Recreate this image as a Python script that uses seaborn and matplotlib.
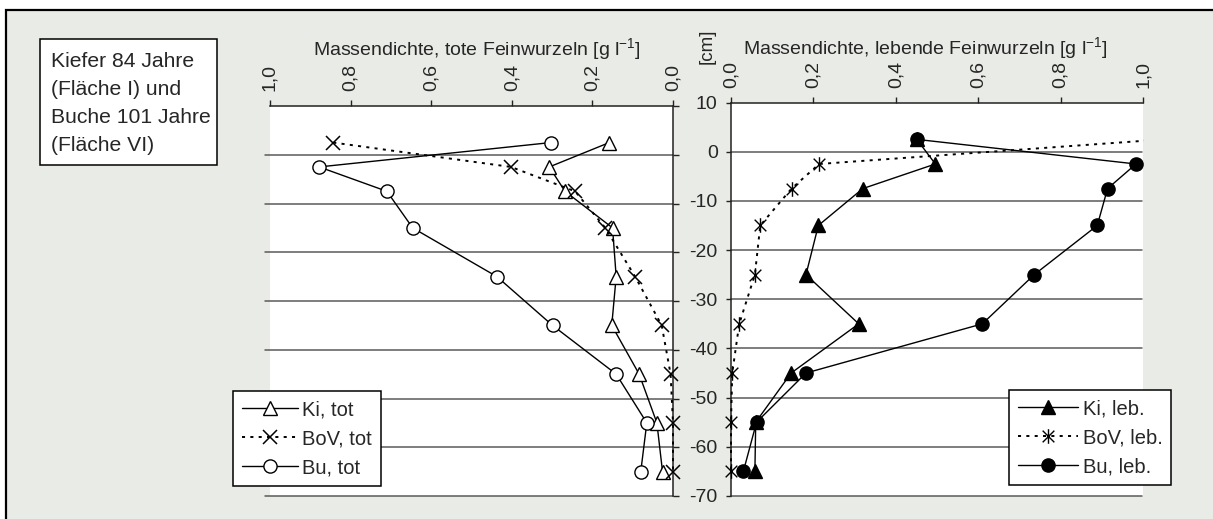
import numpy as np
import matplotlib
matplotlib.use("Agg")
import matplotlib.pyplot as plt
from matplotlib.patches import Rectangle
from matplotlib.path import Path
import seaborn as sns

# Depth of sampled layers [cm]; positive = organic layer above mineral soil
depth = [2.5, -2.5, -7.5, -15, -25, -35, -45, -55, -65]

# Dead fine roots [g/l]
ki_tot = [0.158, 0.307, 0.268, 0.150, 0.141, 0.152, 0.084, 0.040, 0.026]
bov_tot = [0.843, 0.402, 0.243, 0.168, 0.094, 0.028, 0.006, 0.0, 0.0]
bu_tot = [0.303, 0.878, 0.710, 0.646, 0.437, 0.299, 0.141, 0.065, 0.080]

# Living fine roots [g/l]
ki_leb = [0.451, 0.496, 0.320, 0.212, 0.182, 0.310, 0.146, 0.060, 0.058]
bov_leb = [1.05, 0.214, 0.147, 0.071, 0.058, 0.020, 0.003, 0.0, 0.0]
bu_leb = [0.451, 0.983, 0.914, 0.889, 0.736, 0.610, 0.182, 0.062, 0.030]

x_ticks = [0.0, 0.2, 0.4, 0.6, 0.8, 1.0]
x_ticklabels = ["0,0", "0,2", "0,4", "0,6", "0,8", "1,0"]
y_ticks = [-70, -60, -50, -40, -30, -20, -10, 0, 10]
y_ticklabels = ["-70", "-60", "-50", "-40", "-30", "-20", "-10", "0", "10"]

sns.set_theme(style="white")
plt.rcParams["font.family"] = ["Liberation Sans", "DejaVu Sans"]
plt.rcParams["mathtext.fontset"] = "custom"
plt.rcParams["mathtext.rm"] = "Liberation Sans"
plt.rcParams["mathtext.it"] = "Liberation Sans:italic"
plt.rcParams["lines.scale_dashes"] = False

W, H = 1213, 519
fig = plt.figure(figsize=(W / 100, H / 100), dpi=100)
fig.patch.set_facecolor("white")


def fx(px):
    return px / W


def fy(py):
    return 1 - py / H


# outer panel background
fig.add_artist(Rectangle((fx(6), -0.05), 1.1, fy(10) + 0.05, transform=fig.transFigure,
                         facecolor="#e9ebe6", edgecolor="black", lw=1.6, zorder=-5))

axL = fig.add_axes([fx(270), fy(496), fx(673) - fx(270), fy(106) - fy(496)])
axR = fig.add_axes([fx(731), fy(496), fx(1143) - fx(731), fy(102.5) - fy(496)])

asterisk = Path([(-1, -1), (1, 1), (-1, 1), (1, -1), (0, -1.25), (0, 1.25)],
                [Path.MOVETO, Path.LINETO, Path.MOVETO, Path.LINETO, Path.MOVETO, Path.LINETO])

TICK_FS = 14
GRID_C = "#5a5a5a"
DOT = (0, (2.2, 3.8))

for ax in (axL, axR):
    ax.set_facecolor("white")
    ax.set_ylim(-70, 10)
    for y in y_ticks[:-1]:
        if ax is axL:
            ax.axhline(y, xmin=-0.012, xmax=1.0, color=GRID_C, lw=1.1, zorder=0.5, clip_on=False)
        else:
            ax.axhline(y, xmin=0.0, xmax=0.997, color=GRID_C, lw=1.1, zorder=0.5, clip_on=False)
    ax.xaxis.set_ticks_position("top")
    ax.set_xticks(x_ticks)
    ax.set_xticklabels(x_ticklabels, rotation=90, fontsize=TICK_FS)
    ax.tick_params(axis="x", direction="out", length=4.3, width=1.0, color="#222222",
                   pad=6.5, top=True, bottom=False, labeltop=True, labelbottom=False)
    ax.set_xlabel("")
    ax.set_ylabel("")
    for s in ax.spines.values():
        s.set_visible(False)
    ax.spines["top"].set_visible(True)
    ax.spines["top"].set_color("#222222")
    ax.spines["top"].set_linewidth(1.1)

# left panel: dead roots, reversed x axis
axL.set_xlim(1.0, 0.0)
axL.spines["right"].set_visible(True)
axL.spines["right"].set_color("#222222")
axL.spines["right"].set_linewidth(1.1)
axL.yaxis.set_ticks_position("right")
axL.set_yticks(y_ticks)
axL.tick_params(axis="y", direction="out", length=4.3, width=1.0, color="#222222",
                right=True, left=False, labelright=False, labelleft=False)

# right panel: living roots
axR.set_xlim(0.0, 1.0)
axR.spines["left"].set_visible(True)
axR.spines["left"].set_color("#222222")
axR.spines["left"].set_linewidth(1.1)
axR.yaxis.set_ticks_position("left")
axR.set_yticks(y_ticks)
axR.set_yticklabels(y_ticklabels, fontsize=TICK_FS)
axR.tick_params(axis="y", direction="out", length=3.6, width=1.0, color="#222222",
                left=True, right=False, labelleft=True, pad=6.0)

common = dict(sort=False, estimator=None, color="black")

sns.lineplot(x=ki_tot, y=depth, ax=axL, lw=1.0, marker="^", ms=10, mfc="white",
             mec="black", mew=1.0, label="Ki, tot", **common)
sns.lineplot(x=bov_tot, y=depth, ax=axL, lw=1.4, linestyle=DOT, marker="x", ms=9.5,
             mec="black", mew=1.1, label="BoV, tot", **common)
sns.lineplot(x=bu_tot, y=depth, ax=axL, lw=1.0, marker="o", ms=9.5, mfc="white",
             mec="black", mew=1.0, label="Bu, tot", **common)
for ln in axL.lines[-3:]:
    ln.set_clip_on(False)
    ln.set_zorder(3)

sns.lineplot(x=ki_leb, y=depth, ax=axR, lw=1.0, marker="^", ms=10, mfc="black",
             mec="black", mew=1.0, label="Ki, leb.", **common)
sns.lineplot(x=bov_leb, y=depth, ax=axR, lw=1.4, linestyle=DOT, marker=asterisk, ms=10.5,
             mec="black", mew=1.0, label="BoV, leb.", **common)
sns.lineplot(x=bu_leb, y=depth, ax=axR, lw=1.0, marker="o", ms=9.5, mfc="black",
             mec="black", mew=1.0, label="Bu, leb.", **common)
lines_R = axR.lines[-3:]
for ln in lines_R:
    ln.set_clip_on(False)
    ln.set_zorder(3)
# the organic-layer value of BoV exceeds the axis range: cut it at the right edge
clip_rect = Rectangle((-0.06, -0.06), 1.062, 1.12, transform=axR.transAxes,
                      facecolor="none", edgecolor="none")
lines_R[1].set_clip_on(True)
lines_R[1].set_clip_path(clip_rect)

axL.set_ylim(-70, 10)
axR.set_ylim(-70, 10)
axL.set_xlabel("")
axL.set_ylabel("")
axR.set_xlabel("")
axR.set_ylabel("")

leg_kw = dict(loc="upper left", fontsize=14.5, frameon=True, fancybox=False, shadow=False,
              framealpha=1.0, edgecolor="black", facecolor="white", borderpad=0.45,
              handlelength=2.8, handletextpad=0.2, labelspacing=0.5, borderaxespad=0.0,
              numpoints=1)
hL, lL = axL.get_legend_handles_labels()
legL = axL.legend(hL, lL, bbox_to_anchor=(fx(233), fy(391)), bbox_transform=fig.transFigure, **leg_kw)
hR, lR = axR.get_legend_handles_labels()
legR = axR.legend(hR, lR, bbox_to_anchor=(fx(1009), fy(390)), bbox_transform=fig.transFigure,
                  **{**leg_kw, "handlelength": 3.0})
for lg in (legL, legR):
    lg.get_frame().set_linewidth(1.1)
    lg.set_zorder(10)

# axis titles
fig.text(fx(477), fy(49), r"Massendichte, tote Feinwurzeln [g l$^{\mathrm{-1}}$]",
         ha="center", va="center", fontsize=14)
fig.text(fx(925), fy(48), r"Massendichte, lebende Feinwurzeln [g l$^{\mathrm{-1}}$]",
         ha="center", va="center", fontsize=14)
fig.text(fx(707), fy(46), "[cm]", ha="center", va="center", rotation=90, fontsize=13.5)

# site description box
fig.add_artist(Rectangle((fx(40), fy(165)), fx(217) - fx(40), fy(39) - fy(165),
                         transform=fig.transFigure, facecolor="white", edgecolor="black",
                         lw=1.1, zorder=1))
fig.text(fx(51), fy(52), "Kiefer 84 Jahre\n(Fläche I) und\nBuche 101 Jahre\n(Fläche VI)",
         ha="left", va="top", fontsize=15.2, linespacing=1.6, zorder=2)

fig.savefig("out.png", dpi=100, facecolor=fig.get_facecolor())
